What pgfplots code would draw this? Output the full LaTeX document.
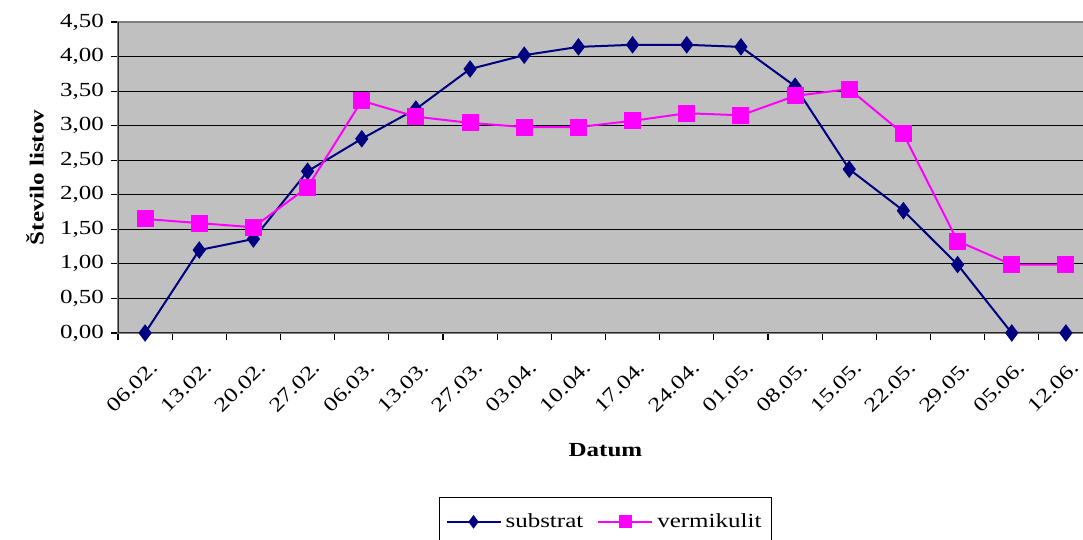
\documentclass[border=0pt]{standalone}
\usepackage{fontspec}
\setmainfont{Liberation Serif}[FakeStretch=1.25]
\usepackage{pgfplots}
\pgfplotsset{compat=1.18}
\definecolor{plotbg}{RGB}{192,192,192}
\definecolor{sub}{RGB}{0,0,128}
\definecolor{verm}{RGB}{255,0,255}
\begin{document}
\begin{tikzpicture}[x=1pt,y=1pt]
\begin{axis}[
  at={(59pt,103.5pt)}, anchor=south west,
  scale only axis, width=487.5pt, height=155.5pt,
  xmin=-0.5, xmax=17.5, ymin=0, ymax=4.5,
  axis background/.style={fill=plotbg},
  axis line style={draw=black!50, line width=1pt},
  xtick={0,...,17},
  xticklabels={06.02.,13.02.,20.02.,27.02.,06.03.,13.03.,27.03.,03.04.,10.04.,17.04.,24.04.,01.05.,08.05.,15.05.,22.05.,29.05.,05.06.,12.06.},
  major x tick style={draw=none},
  minor xtick={-0.5,0.5,...,17.5},
  minor tick length=3.5pt,
  major tick length=3.5pt,
  tick align=outside,
  tick pos=left,
  tick style={black, line width=0.6pt},
  ytick={0,0.5,...,4.5},
  ymajorgrids,
  grid style={black, line width=0.5pt},
  /pgf/number format/assume math mode=true,
  yticklabel style={/pgf/number format/fixed, /pgf/number format/fixed zerofill, /pgf/number format/precision=2, /pgf/number format/use comma, font=\fontsize{10}{12}\selectfont},
  xticklabel style={rotate=45, anchor=east, xshift=-2pt, yshift=-12pt, font=\fontsize{10}{12}\selectfont},
  ylabel={\textbf{Število listov}},
  xlabel={\textbf{Datum}},
  xlabel style={at={(axis description cs:0.5,0)}, anchor=center, yshift=-58.5pt},
  ylabel style={at={(axis description cs:0,0.5)}, anchor=center, yshift=41.5pt},
  label style={font=\fontsize{10}{12}\selectfont},
  legend columns=2,
  legend style={at={(0.5,-0.527)}, anchor=north, draw=black, line width=0.5pt,
    font=\fontsize{10}{12}\selectfont, inner xsep=3pt, inner ysep=6pt,
    /tikz/every even column/.append style={column sep=5pt}},
  legend image code/.code={\draw[mark repeat=2,mark phase=2,#1, mark size=3pt] plot coordinates {(0pt,0pt)(13.5pt,0pt)(27pt,0pt)};},
]
\addplot[sub, line width=1pt, mark=diamond*, mark size=4pt, mark options={fill=sub, draw=sub, line width=0.5pt}] coordinates {
(0,0) (1,1.20) (2,1.36) (3,2.34) (4,2.81) (5,3.24) (6,3.82) (7,4.02) (8,4.14) (9,4.17) (10,4.17) (11,4.14) (12,3.57) (13,2.37) (14,1.77) (15,0.99) (16,0) (17,0)};
\addlegendentry{substrat}
\addplot[verm, line width=1pt, mark=square*, mark size=4pt, mark options={fill=verm, draw=verm, line width=0.5pt}] coordinates {
(0,1.65) (1,1.59) (2,1.53) (3,2.11) (4,3.36) (5,3.13) (6,3.04) (7,2.98) (8,2.98) (9,3.07) (10,3.18) (11,3.15) (12,3.43) (13,3.53) (14,2.88) (15,1.33) (16,0.99) (17,0.99)};
\addlegendentry{vermikulit}
\draw[black!85, line width=1pt] (rel axis cs:0,1) -- (rel axis cs:0,0) -- (rel axis cs:1,0);
\end{axis}
\pgfresetboundingbox
\useasboundingbox (0,0) rectangle (541.5pt,270pt);
\end{tikzpicture}
\end{document}
